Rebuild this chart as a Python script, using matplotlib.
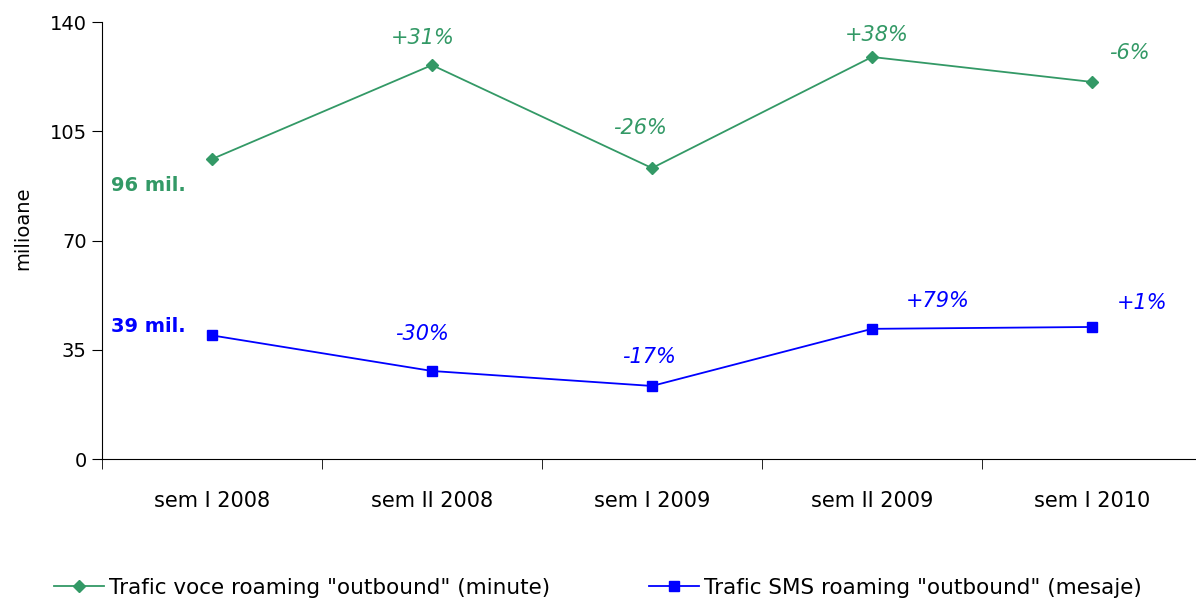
import matplotlib
matplotlib.use("Agg")
import matplotlib.pyplot as plt

plt.rcParams['font.family'] = ['DejaVu Sans']

semestre = ['sem I 2008', 'sem II 2008', 'sem I 2009', 'sem II 2009', 'sem I 2010']
voce = [96.1, 126.2, 93.2, 128.8, 120.8]
sms = [39.6, 28.2, 23.4, 41.7, 42.3]
voce_var = ['', '+31%', '-26%', '+38%', '-6%']
sms_var = ['', '-30%', '-17%', '+79%', '+1%']

verde = '#339966'
albastru = '#0000ff'

fig = plt.figure(figsize=(11.96, 6.03), dpi=100)
ax = fig.add_axes([0.0853, 0.2388, 0.9197, 0.7247])

x = list(range(len(semestre)))
l1, = ax.plot(x, voce, color=verde, lw=1.3, marker='D', markersize=6.5,
              label='Trafic voce roaming "outbound" (minute)')
l2, = ax.plot(x, sms, color=albastru, lw=1.3, marker='s', markersize=6.5,
              label='Trafic SMS roaming "outbound" (mesaje)')

ax.set_xlim(-0.5, 4.5)
ax.set_ylim(0, 140)
ax.set_yticks([0, 35, 70, 105, 140])
ax.tick_params(axis='y', labelsize=14, length=7, direction='out', pad=4)
ax.set_xticks(x)
ax.set_xticklabels(semestre, fontsize=15)
ax.tick_params(axis='x', length=0, pad=23)
ax.set_xticks([i + 0.5 for i in range(-1, 5)], minor=True)
ax.tick_params(axis='x', which='minor', length=7, direction='out')
ax.spines['top'].set_visible(False)
ax.spines['right'].set_visible(False)
ax.set_ylabel('milioane', fontsize=14)
ax.yaxis.set_label_coords(-0.063, 0.527)

# etichete de variatie semestriala
off_voce = [None, (-9, 27), (-12, 40), (5, 22), (37, 29)]
off_sms = [None, (-10, 37), (-3, 29), (66, 28), (50, 24)]
for i in range(1, 5):
    ax.annotate(voce_var[i], (x[i], voce[i]), xytext=off_voce[i], textcoords='offset pixels',
                ha='center', va='center', color=verde, fontsize=15, style='italic')
    ax.annotate(sms_var[i], (x[i], sms[i]), xytext=off_sms[i], textcoords='offset pixels',
                ha='center', va='center', color=albastru, fontsize=15, style='italic')

ax.annotate('%d mil.' % round(voce[0]), (x[0], voce[0]), xytext=(-64, -26), textcoords='offset pixels',
            ha='center', va='center', color=verde, fontsize=14, fontweight='bold')
ax.annotate('%d mil.' % int(sms[0]), (x[0], sms[0]), xytext=(-64, 9), textcoords='offset pixels',
            ha='center', va='center', color=albastru, fontsize=14, fontweight='bold')

fig.legend(handles=[l1, l2], loc='center', bbox_to_anchor=(0.5, 1 - 588 / 603), ncol=2,
           frameon=False, fontsize=15.5, handlelength=2.3, handletextpad=0.25, columnspacing=4.6)

fig.savefig('out.png', dpi=100)
